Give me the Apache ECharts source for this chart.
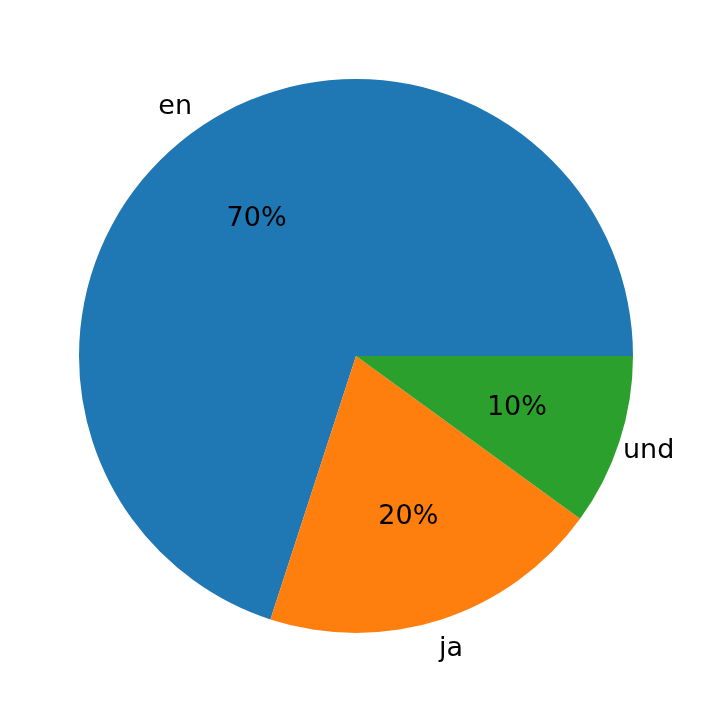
<!DOCTYPE html>
<html><head><meta charset="utf-8">
<script src="https://cdn.jsdelivr.net/npm/echarts@6/dist/echarts.min.js"></script>
<style>html,body{margin:0;background:#fff}#c{width:721px;height:713px}</style>
</head><body><div id="c"></div>
<script>
const categories = ['en', 'ja', 'und'];
const values = [70, 20, 10];
const colors = ['#1f77b4', '#ff7f0e', '#2ca02c'];
const R = 277, C = [356, 356];
const total = values.reduce((a, b) => a + b, 0);
const outerAlign = ['right', 'left', 'left'];
const font = {fontFamily: 'DejaVu Sans', fontSize: 27, color: '#000'};
const chart = echarts.init(document.getElementById('c'));
const base = {type: 'pie', center: C, startAngle: 0, clockwise: false, animation: false,
  emphasis: {disabled: true}, labelLine: {show: false}, silent: true};
chart.setOption({
  series: [
    Object.assign({}, base, {radius: [0, R], label: {show: false},
      data: categories.map((n, i) => ({name: n, value: values[i], itemStyle: {color: colors[i]}}))}),
    Object.assign({}, base, {radius: [0, R * 1.2], z: 5,
      label: Object.assign({show: true, position: 'inside', formatter: p => Math.round(p.value / total * 100) + '%'}, font),
      data: categories.map((n, i) => ({name: n, value: values[i], itemStyle: {color: 'transparent'}}))}),
    Object.assign({}, base, {radius: [R, R * 1.2], z: 5,
      label: Object.assign({show: true, position: 'inside', formatter: '{b}'}, font),
      data: categories.map((n, i) => ({name: n, value: values[i], itemStyle: {color: 'transparent'},
        label: {align: outerAlign[i]}}))})
  ]
});
</script></body></html>
